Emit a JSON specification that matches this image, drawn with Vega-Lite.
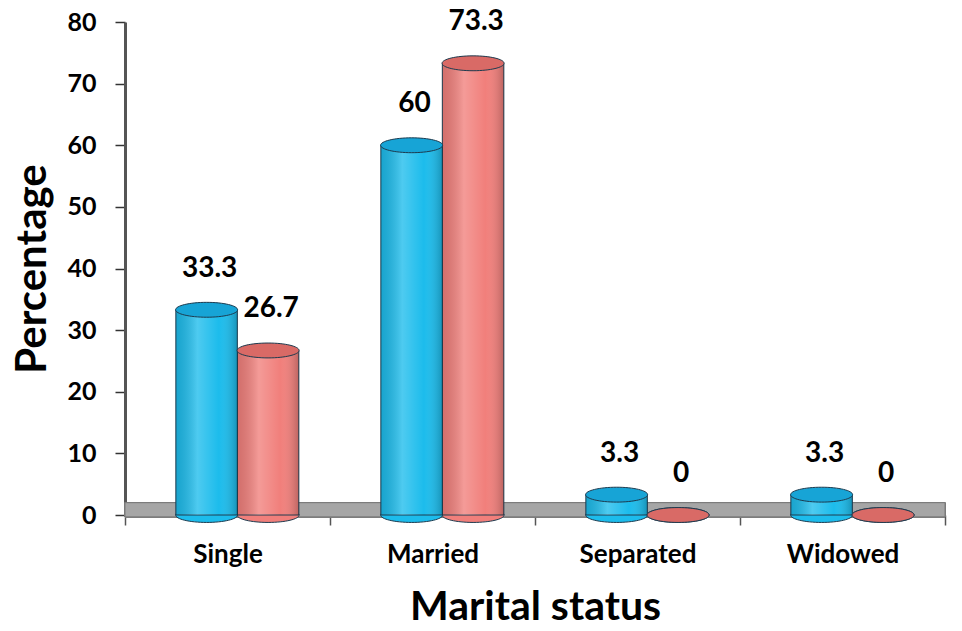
{
  "$schema": "https://vega.github.io/schema/vega-lite/v6.json",
  "width": 820,
  "height": 493,
  "autosize": "none",
  "padding": {"left": 125, "top": 22, "right": 17, "bottom": 116},
  "background": "white",
  "config": {
    "view": {"stroke": null},
    "font": "Lato",
    "axis": {"labelFont": "Lato", "titleFont": "Lato", "labelColor": "#000", "titleColor": "#000", "labelFontWeight": "bold", "titleFontWeight": "bold", "grid": false}
  },
  "data": {
    "values": [
      {"status": "Single", "group": "Group 2", "value": 26.7},
      {"status": "Married", "group": "Group 2", "value": 73.3},
      {"status": "Separated", "group": "Group 2", "value": 0},
      {"status": "Widowed", "group": "Group 2", "value": 0},
      {"status": "Single", "group": "Group 1", "value": 33.3},
      {"status": "Married", "group": "Group 1", "value": 60},
      {"status": "Separated", "group": "Group 1", "value": 3.3},
      {"status": "Widowed", "group": "Group 1", "value": 3.3}
    ]
  },
  "encoding": {
    "x": {
      "field": "status", "type": "nominal", "sort": ["Single", "Married", "Separated", "Widowed"],
      "scale": {"paddingInner": 0, "paddingOuter": 0},
      "axis": {"title": "Marital status", "labelAngle": 0, "labelFontSize": 26, "titleFontSize": 41, "labelPadding": 16, "titlePadding": 20, "tickBand": "extent", "tickSize": 10, "tickColor": "#555", "tickWidth": 1.5, "domain": false}
    },
    "xOffset": {"field": "group", "type": "nominal", "scale": {"domain": ["Group 1", "Group 2"], "paddingOuter": 0.667, "paddingInner": 0, "align": 0.62}}
  },
  "layer": [
    {
      "mark": {"type": "rect", "fill": "#a6a6a6", "stroke": "#7a7a7a", "strokeWidth": 1},
      "encoding": {"x": null, "xOffset": null, "y": {"datum": -0.3, "type": "quantitative"}, "y2": {"datum": 2}}
    },
    {
      "mark": {"type": "point", "filled": true, "opacity": 1, "shape": "M-1,0A1,0.24,0,1,0,1,0A1,0.24,0,1,0,-1,0Z", "size": 3844, "stroke": "#1d3b4f", "strokeWidth": 1},
      "encoding": {
        "y": {"datum": 0, "type": "quantitative"},
        "color": {"field": "group", "type": "nominal", "legend": null, "scale": {"domain": ["Group 1", "Group 2"], "range": ["#1cbcec", "#f17f7b"]}}
      }
    },
    {
      "mark": {"type": "bar", "stroke": "#1d3b4f", "strokeWidth": 1},
      "encoding": {
        "y": {"field": "value", "type": "quantitative", "scale": {"domain": [0, 80], "clamp": false},
          "axis": {"title": "Percentage", "values": [0, 10, 20, 30, 40, 50, 60, 70, 80], "labelFontSize": 25, "titleFontSize": 42, "labelPadding": 19, "titlePadding": 12, "tickSize": 10, "tickColor": "#333", "tickWidth": 1.5, "domainColor": "#555", "domainWidth": 3}},
        "color": {"field": "group", "type": "nominal", "legend": null}
      }
    },
    {
      "mark": {"type": "bar", "strokeWidth": 0, "fill": {"gradient": "linear", "x1": 0, "x2": 1, "y1": 0, "y2": 0, "stops": [{"offset": 0, "color": "rgba(0,0,0,0.12)"}, {"offset": 0.35, "color": "rgba(255,255,255,0.22)"}, {"offset": 0.7, "color": "rgba(255,255,255,0)"}, {"offset": 1, "color": "rgba(0,0,0,0.22)"}]}},
      "encoding": {"y": {"field": "value", "type": "quantitative"}}
    },
    {
      "mark": {"type": "point", "filled": true, "opacity": 1, "shape": "M-1,0A1,0.24,0,1,0,1,0A1,0.24,0,1,0,-1,0Z", "size": 3844, "stroke": "#1d3b4f", "strokeWidth": 1},
      "encoding": {
        "y": {"field": "value", "type": "quantitative"},
        "fill": {"field": "group", "type": "nominal", "legend": null, "scale": {"domain": ["Group 1", "Group 2"], "range": ["#17a4d6", "#d96a66"]}}
      }
    },
    {
      "mark": {"type": "text", "font": "Lato", "fontWeight": "bold", "fontSize": 28, "dy": -41, "dx": 3, "color": "#000"},
      "encoding": {
        "y": {"field": "value", "type": "quantitative"},
        "text": {"field": "value", "type": "quantitative"}
      }
    }
  ]
}
